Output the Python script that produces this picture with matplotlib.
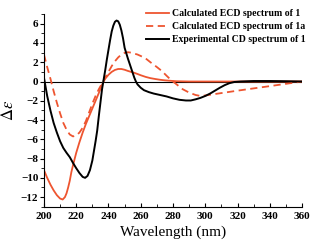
import matplotlib
matplotlib.use('Agg')
import matplotlib.pyplot as plt
from matplotlib.ticker import MultipleLocator

# calculated ECD of 1
wl_calc1 = [200, 202, 204, 206, 208, 210, 211.6, 213, 214, 215, 216, 217, 218, 220, 222, 224,
            226, 228, 230, 232, 234, 236, 237, 238, 240, 242, 244, 246, 248, 250, 252, 254,
            256, 258, 260, 263, 266, 269, 272, 275, 278, 282, 290, 360]
de_calc1 = [-9.2, -10.0, -10.7, -11.3, -11.8, -12.15, -12.25, -12.0, -11.6, -11.0, -10.3, -9.4,
            -8.7, -7.4, -6.3, -5.3, -4.4, -3.6, -2.8, -2.0, -1.2, -0.35, 0.0, 0.3, 0.7, 1.0,
            1.2, 1.3, 1.3, 1.22, 1.1, 1.0, 0.9, 0.78, 0.65, 0.48, 0.35, 0.26, 0.18, 0.12, 0.08,
            0.03, 0.0, 0.0]

# calculated ECD of 1a
wl_calc1a = [200, 202, 204, 206, 208, 210, 212, 214, 216, 218, 220, 222, 224, 226, 228, 230,
             232, 234, 236, 238, 240, 242, 244, 246, 248, 250, 252, 254, 256, 258, 260, 263,
             266, 270, 273, 276, 278, 280, 283, 286, 290, 294, 297, 300, 310, 320, 328, 340,
             350, 360]
de_calc1a = [2.8, 1.5, 0.3, -1.0, -2.2, -3.3, -4.3, -5.0, -5.5, -5.7, -5.6, -5.3, -4.8, -4.1,
             -3.2, -2.3, -1.5, -0.8, -0.2, 0.4, 1.0, 1.6, 2.1, 2.5, 2.8, 2.97, 3.04, 3.0, 2.9,
             2.8, 2.65, 2.4, 2.0, 1.5, 1.1, 0.6, 0.28, 0.0, -0.4, -0.8, -1.15, -1.4, -1.5,
             -1.45, -1.2, -0.95, -0.76, -0.48, -0.24, 0.0]

# experimental CD of 1
wl_exp = [200, 202, 204, 206, 208, 210, 212, 214, 216, 218, 220, 222, 224, 225.5, 227, 228.5,
          230, 231, 232, 233, 234, 235, 236, 237, 238, 239, 240, 241, 242, 243, 244, 245, 246,
          247, 248, 249, 250, 252, 254, 256, 257, 258, 260, 262, 265, 268, 272, 276, 280, 284,
          288, 291, 294, 297, 300, 303, 306, 309, 312, 315, 318, 322, 330, 340, 350, 360]
de_exp = [0.4, -1.5, -3.0, -4.3, -5.3, -6.2, -6.9, -7.4, -7.85, -8.45, -9.0, -9.5, -9.9, -10.0,
          -9.8, -9.2, -8.2, -7.2, -6.2, -5.1, -3.6, -2.2, -0.8, 0.2, 1.2, 2.3, 3.3, 4.3, 5.2,
          5.8, 6.2, 6.33, 6.25, 5.9, 5.3, 4.5, 3.5, 2.4, 1.4, 0.4, 0.0, -0.3, -0.65, -0.9,
          -1.1, -1.25, -1.4, -1.55, -1.75, -1.9, -1.97, -1.97, -1.85, -1.7, -1.5, -1.25, -0.95,
          -0.65, -0.38, -0.17, -0.05, 0.0, 0.05, 0.05, 0.03, 0.0]

labels = ['Calculated ECD spectrum of 1', 'Calculated ECD spectrum of 1a',
          'Experimental CD spectrum of 1']

red = '#EE5530'
plt.rcParams['font.family'] = ['Liberation Serif', 'DejaVu Serif']
plt.rcParams['mathtext.fontset'] = 'stix'

fig = plt.figure(figsize=(3.14, 2.47), dpi=100)
ax = fig.add_axes([0.140, 0.163, 0.822, 0.780])

ax.axhline(0, color='black', linewidth=0.8, zorder=1)
ax.plot(wl_calc1, de_calc1, color=red, linewidth=1.3, label=labels[0])
ax.plot(wl_calc1a, de_calc1a, color=red, linewidth=1.3, linestyle=(0, (4, 2.5)), label=labels[1])
ax.plot(wl_exp, de_exp, color='black', linewidth=1.4, label=labels[2])

ax.set_xlim(200, 360)
ax.set_ylim(-13, 7)
ax.spines['top'].set_visible(False)
ax.spines['right'].set_visible(False)
ax.xaxis.set_major_locator(MultipleLocator(20))
ax.xaxis.set_minor_locator(MultipleLocator(10))
ax.yaxis.set_minor_locator(MultipleLocator(1))
ax.set_yticks(range(-12, 7, 2))
ax.tick_params(axis='x', which='both', direction='in', labelsize=8, pad=4)
ax.tick_params(axis='y', which='both', direction='out', labelsize=8, pad=1)
ax.tick_params(which='major', length=3, width=0.8)
ax.tick_params(which='minor', length=2, width=0.6)
for t in ax.get_xticklabels() + ax.get_yticklabels():
    t.set_fontweight('bold')

ax.set_xlabel('Wavelength (nm)', fontsize=11, labelpad=3)
ax.set_ylabel(r'$\Delta\varepsilon$', fontsize=12, labelpad=3)

leg = ax.legend(loc='upper right', bbox_to_anchor=(0.985, 0.978), bbox_transform=fig.transFigure,
                frameon=False, fontsize=7, handlelength=2.3, handletextpad=0.3,
                labelspacing=0.4, borderaxespad=0.0)
for t in leg.get_texts():
    t.set_fontweight('bold')

fig.savefig('out.png', dpi=100)
